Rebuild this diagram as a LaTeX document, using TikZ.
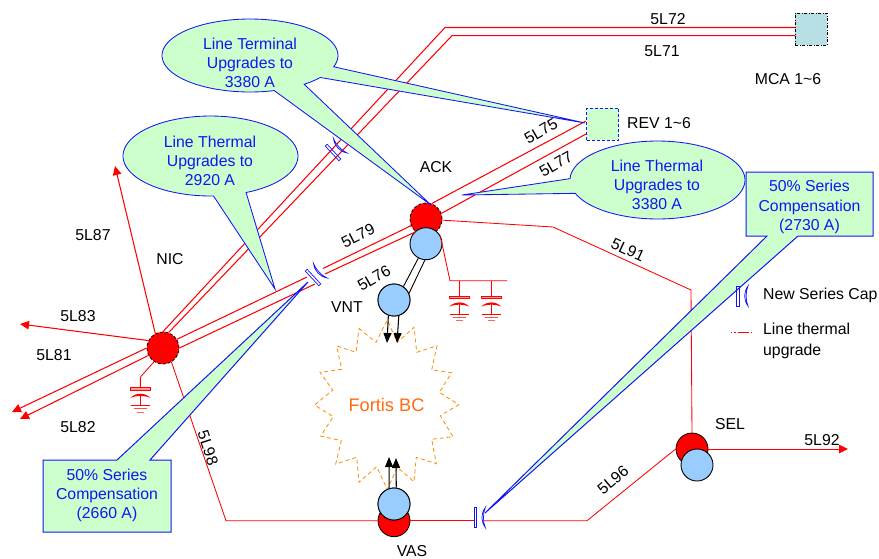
\documentclass[tikz,border=0pt]{standalone}
\usepackage{fontspec}
\setmainfont{Liberation Sans}
\usetikzlibrary{arrows.meta,calc}
\definecolor{lgreen}{HTML}{CCFFCC}
\definecolor{lblue}{HTML}{99CCFF}
\definecolor{cblue}{HTML}{1414F5}
\definecolor{teal2}{HTML}{B8DFE3}
\definecolor{orng}{HTML}{FF6A13}
\tikzset{
  lbl/.style={font=\fontsize{15.8}{21}\selectfont,text=black,inner sep=0pt,align=center},
  calltext/.style={font=\fontsize{15.8}{19.2}\selectfont,text=cblue,inner sep=0pt,align=center},
  redline/.style={draw=red,line width=1.05pt},
  redthin/.style={draw=red,line width=0.85pt},
  redarrow/.style={redline,-{Triangle[length=9pt,width=8.5pt]}},
  blackarrow/.style={draw=black,line width=1.05pt,-{Triangle[length=10pt,width=8pt]}},
  busred/.style={circle,fill=red,draw=black,line width=0.8pt,minimum size=32pt,inner sep=0pt},
  busdash/.style={busred,densely dashed},
  busblue/.style={circle,fill=lblue,draw=black,line width=0.9pt,minimum size=32pt,inner sep=0pt},
  callout/.style={draw=cblue,fill=lgreen,line width=0.85pt,line join=miter},
  calloutbox/.style={callout,draw=cblue,line width=1pt},
  seriescap/.pic={
    \draw[cblue,line width=0.7pt] (-1.3,-10) rectangle (1.3,10);
    \draw[cblue,line width=0.7pt,fill=white] (10,-10) .. controls (5.5,-4) and (5.5,4) .. (10,10) .. controls (7.5,4) and (7.5,-4) .. (10,-10) -- cycle;
  },
  gcap/.pic={
    \draw[red,line width=0.8pt,fill=red!40] (-9.7,0) rectangle (9.7,2.7);
    \draw[red,line width=0.8pt] (0,7) -- (0,18);
    \fill[red] (-10,10.7) .. controls (-5,5) and (5,5) .. (10,10.7) .. controls (5,8) and (-5,8) .. (-10,10.7) -- cycle;
    \draw[red,line width=0.8pt] (-9.7,18) -- (9.7,18);
    \draw[red!70,line width=0.8pt] (-6.3,21.3) -- (6.3,21.3);
    \draw[red!60,line width=0.8pt] (-3.3,24.7) -- (3.3,24.7);
  }
}
\begin{document}
\begin{tikzpicture}[x=1pt,y=-1pt]
\useasboundingbox (0,0) rectangle (879,558);

% buses
\node[busdash] (NIC) at (163,348) {};
\node[busdash] (ACK) at (426,219) {};
\node[busblue] (ACKb) at (426,243.7) {};
\node[busblue] (VNT) at (394,300) {};
\node[busred] (VAS) at (394,520.7) {};
\node[busblue] (VASb) at (394,504) {};
\node[busred] (SEL) at (692,449) {};
\node[busblue] (SELb) at (697,465) {};

% boxes at the far ends
\node[draw=black,dash pattern=on 3pt off 1.5pt on 1pt off 1.5pt,fill=teal2,line width=0.9pt,minimum size=32pt,inner sep=0pt] (MCA) at (811,29) {};
\node[draw=cblue,densely dashed,fill=lgreen,line width=1pt,minimum size=32pt,inner sep=0pt] (REV) at (602.5,124) {};

% named free ends
\coordinate (m72) at (795,27.5);
\coordinate (m71) at (795,35.7);
\coordinate (k72) at (445,27.5);
\coordinate (k71) at (452,35.7);
\coordinate (r75) at (586,121);
\coordinate (r77) at (586,134);
\coordinate (a87) at (115,166);
\coordinate (a83) at (20,324);
\coordinate (a81) at (12,412);
\coordinate (a82) at (20,419);
\coordinate (a92) at (848,449);
\coordinate (g1) at (226,520.7);
\coordinate (c3l) at (474,520.7);
\coordinate (c3r) at (483,520.7);
\coordinate (k96) at (587,520.7);
\coordinate (k91a) at (553,227);
\coordinate (k91b) at (691,290);
\coordinate (c2ua) at (307,277);
\coordinate (c2ub) at (323,268.5);
\coordinate (c2la) at (315,284);
\coordinate (c2lb) at (325,274);
\coordinate (cb0) at (450,280.7);
\coordinate (cb1) at (507,280.7);
\coordinate (cs1) at (459.3,280.7);
\coordinate (cs2) at (491.3,280.7);
\coordinate (cp1) at (459.3,296);
\coordinate (cp2) at (491.3,296);
\coordinate (ncb) at (140.4,377);
\coordinate (ncp) at (140.4,387.3);

% red connectors
\path[redline] (NIC.90) -- (k72) -- (m72);
\path[redline] (NIC.70) -- (k71) -- (m71);
\path[redline] (NIC.32) -- (c2ua);
\path[redline] (NIC.0) -- (c2la);
\path[redline] (c2ub) -- (ACK.204);
\path[redline] (c2lb) -- (ACK.231);
\path[redline] (ACK.70) -- (r75);
\path[redline] (ACK.20) -- (r77);
\path[redarrow] (NIC.118) -- (a87);
\path[redarrow] (NIC.153) -- (a83);
\path[redarrow] (NIC.180) -- (a81);
\path[redarrow] (NIC.207) -- (a82);
\path[redthin,-{Triangle[length=9pt,width=8.5pt]}] (SEL.east) -- (a92);
\path[redthin] (NIC.-59) -- (g1) -- (VAS.west);
\path[redthin] (VAS.east) -- (c3l);
\path[redthin] (c3r) -- (k96) -- (SEL.west);
\path[redthin] (ACK.-4) -- (k91a) -- (k91b) -- (SEL.north);
\path[redthin] (ACKb.30) -- (cb0) -- (cb1);
\path[redthin] (cs1) -- (cp1);
\path[redthin] (cs2) -- (cp2);
\path[redthin] (NIC.237) -- (ncb) -- (ncp);
\pic at (cp1) {gcap};
\pic at (cp2) {gcap};
\pic at (ncp) {gcap};

% ACK - VNT and flows
\draw[black,line width=0.9pt] (ACKb.242) -- (VNT.55);
\draw[black,line width=0.9pt] (ACKb.266) -- (VNT.24);

% Fortis BC
\draw[orng!75!yellow,line width=0.85pt,dash pattern=on 4pt off 3pt]
 (359,328.3)--(376,342.3)--(387.3,320)--(397.3,342.3)--(414,327.3)--(416.7,352.3)--(437,345.7)--(431.7,370)--(451.7,372.7)--(439.3,392.3)--(458.7,404.7)--(440.3,415.7)--(453,436.7)--(431.7,439.3)--(436.3,463.7)--(416.3,457.3)--(414,481.7)--(397.3,467.3)--(387.3,489.3)--(376.7,466.7)--(359,482.3)--(356.7,457.3)--(335.7,464)--(341.3,440.7)--(320.7,436)--(333.3,416.7)--(314.7,405)--(332.7,390)--(320,372.3)--(341.7,369.3)--(336.7,346)--(356,352.3)--cycle;
\node[lbl,text=orng,font=\fontsize{18.2}{21}\selectfont] (FBC) at (386.5,405) {Fortis BC};
\coordinate (vn1) at (387,343);
\coordinate (vn2) at (397,343);
\coordinate (va1) at (389,457);
\coordinate (va2) at (396,458);
\draw[blackarrow] (VNT.250) -- (vn1);
\draw[blackarrow] (VNT.287) -- (vn2);
\draw[blackarrow] (VASb.107) -- (va1);
\draw[blackarrow] (VASb.82) -- (va2);
% redraw buses on top of the burst
\node[busblue] at (VNT) {};
\node[busblue] at (VASb) {};

% callouts
\path[callout] plot[domain=74:378,samples=80] ({250+88*cos(\x)},{55.5+36.5*sin(\x)}) -- (585,123) -- plot[domain=37:52,samples=6] ({250+88*cos(\x)},{55.5+36.5*sin(\x)}) -- (431,205) -- cycle;
\path[callout] plot[domain=88:426,samples=80] ({210.5+87.5*cos(\x)},{156+40*sin(\x)}) -- (275,289) -- cycle;
\path[callout] plot[domain=182:520,samples=80] ({657.5+87.5*cos(\x)},{180+39*sin(\x)}) -- (462,195) -- cycle;
\path[calloutbox] (43,460) -- (117,460) -- (308,282) -- (150,460) -- (171,460) -- (171,532) -- (43,532) -- cycle;
\path[calloutbox] (746,172) -- (873,172) -- (873,236) -- (798,236) -- (485,513) -- (767,236) -- (746,236) -- cycle;

\node[calltext] (t1) at (250,63) {Line Terminal\\Upgrades to\\3380 A};
\node[calltext] (t2) at (210,161) {Line Thermal\\Upgrades to\\2920 A};
\node[calltext] (t3) at (657,185) {Line Thermal\\Upgrades to\\3380 A};
\node[calltext] (t4) at (107,495.5) {50\% Series\\Compensation\\(2660 A)};
\node[calltext] (t5) at (809.5,207) {50\% Series\\Compensation\\(2730 A)};

% series capacitors
\pic[rotate=43] at (333,152.5) {seriescap};
\pic[rotate=43] at (313,277.5) {seriescap};
\pic at (475.3,517.5) {seriescap};
\pic at (738,296) {seriescap};

% labels
\node[lbl] (l72) at (668,19) {5L72};
\node[lbl] (l71) at (662,51) {5L71};
\node[lbl] (lMCA) at (788,79) {MCA 1\textasciitilde 6};
\node[lbl] (lREV) at (659,123) {REV 1\textasciitilde 6};
\node[lbl] (lACK) at (436,167) {ACK};
\node[lbl,rotate=30] (l75) at (541,131) {5L75};
\node[lbl,rotate=30] (l77) at (556,164) {5L77};
\node[lbl,rotate=27] (l79) at (358,236) {5L79};
\node[lbl,rotate=30] (l76) at (374,278) {5L76};
\node[lbl] (lVNT) at (347,307) {VNT};
\node[lbl,rotate=-25] (l91) at (628,250) {5L91};
\node[lbl] (lNIC) at (170,259) {NIC};
\node[lbl] (l87) at (93,235) {5L87};
\node[lbl] (l83) at (78,316) {5L83};
\node[lbl] (l81) at (54,355) {5L81};
\node[lbl] (l82) at (78,427) {5L82};
\node[lbl,rotate=-72] (l98) at (208,448) {5L98};
\node[lbl,rotate=40] (l96) at (613,480) {5L96};
\node[lbl] (lSEL) at (730,424) {SEL};
\node[lbl] (l92) at (822,440) {5L92};
\node[lbl] (lVAS) at (412,551) {VAS};
\node[lbl,anchor=west] (lcap) at (763,295) {New Series Cap};
\node[lbl,anchor=west,align=left] (lthm) at (763,341) {Line thermal\\upgrade};
\coordinate (t0) at (731,332.5);
\coordinate (t1e) at (752,332.5);
\draw[red,line width=0.9pt,dash pattern=on 1.2pt off 2.2pt on 1.2pt off 2.2pt on 10pt off 0pt] (t0) -- (t1e);
\end{tikzpicture}
\end{document}
